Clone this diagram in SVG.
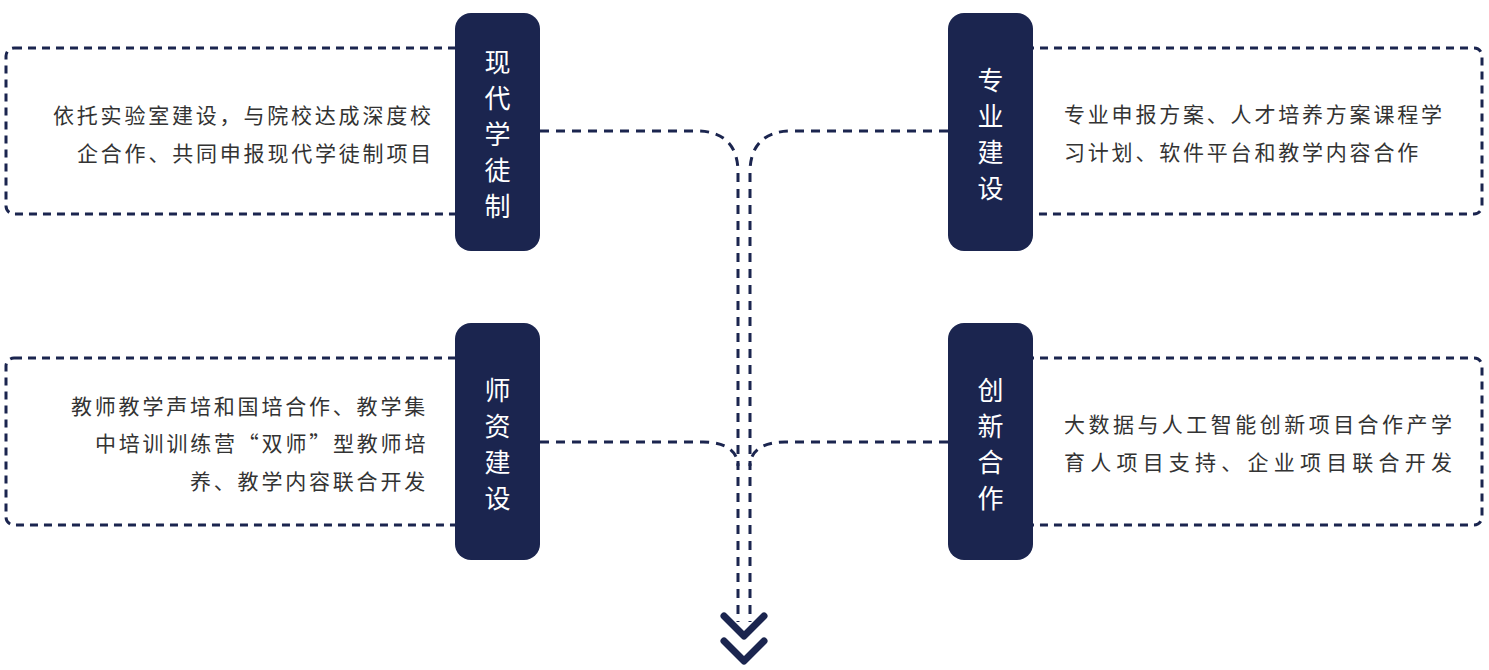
<svg xmlns="http://www.w3.org/2000/svg" width="1489" height="670" viewBox="0 0 1489 670">
<style>
.box{fill:none;stroke:#1b254f;stroke-width:3;stroke-dasharray:8 6}
.pill{fill:#1b254f}
.pt{fill:#ffffff;font-family:"Noto Sans CJK SC","Noto Sans",sans-serif;font-size:26px;text-anchor:middle;dominant-baseline:central}
.bt{fill:#333333;font-family:"Noto Sans CJK SC","Noto Sans",sans-serif;font-size:21px;letter-spacing:2.8px;dominant-baseline:central}
.con{fill:none;stroke:#1b254f;stroke-width:3;stroke-dasharray:9 7}
.chev{fill:none;stroke:#1b254f;stroke-width:7;stroke-linecap:round;stroke-linejoin:round}
</style>
<rect width="1489" height="670" fill="#ffffff"/>
<g id="connectors">
<path class="con" d="M540 131 H697 C726 131 738 148 738 172 V622"/>
<path class="con" d="M948 131 H791 C762 131 750 148 750 172 V622"/>
<path class="con" d="M540 442 H703 C727 442 738 452 738 466"/>
<path class="con" d="M948 442 H785 C761 442 750 452 750 466"/>
<path class="chev" d="M724 616 L744 636 L764 616"/>
<path class="chev" d="M724 641 L744 661 L764 641"/>
</g>
<g id="node-xiandai">
<rect class="box" x="6" y="48" width="500" height="166" rx="8"/>
<rect class="pill" x="455" y="13" width="85" height="238" rx="16"/>
<text class="pt" x="497.5" y="60">现</text>
<text class="pt" x="497.5" y="96">代</text>
<text class="pt" x="497.5" y="132">学</text>
<text class="pt" x="497.5" y="168">徒</text>
<text class="pt" x="497.5" y="204">制</text>
<text class="bt" x="53" y="114">依托实验室建设，与院校达成深度校</text>
<text class="bt" x="77" y="152">企合作、共同申报现代学徒制项目</text>
</g>
<g id="node-zhuanye">
<rect class="box" x="990" y="48" width="492" height="166" rx="8"/>
<rect class="pill" x="948" y="13" width="85" height="238" rx="16"/>
<text class="pt" x="990.5" y="78">专</text>
<text class="pt" x="990.5" y="114">业</text>
<text class="pt" x="990.5" y="150">建</text>
<text class="pt" x="990.5" y="186">设</text>
<text class="bt" x="1064" y="113">专业申报方案、人才培养方案课程学</text>
<text class="bt" x="1064" y="151">习计划、软件平台和教学内容合作</text>
</g>
<g id="node-shizi">
<rect class="box" x="6" y="358" width="500" height="167" rx="8"/>
<rect class="pill" x="455" y="323" width="85" height="237" rx="16"/>
<text class="pt" x="497.5" y="388">师</text>
<text class="pt" x="497.5" y="424">资</text>
<text class="pt" x="497.5" y="460">建</text>
<text class="pt" x="497.5" y="496">设</text>
<text class="bt" x="71" y="405">教师教学声培和国培合作、教学集</text>
<text class="bt" x="95" y="442">中培训训练营“双师”型教师培</text>
<text class="bt" x="190" y="480">养、教学内容联合开发</text>
</g>
<g id="node-chuangxin">
<rect class="box" x="990" y="358" width="492" height="167" rx="8"/>
<rect class="pill" x="948" y="323" width="85" height="237" rx="16"/>
<text class="pt" x="990.5" y="388">创</text>
<text class="pt" x="990.5" y="424">新</text>
<text class="pt" x="990.5" y="460">合</text>
<text class="pt" x="990.5" y="496">作</text>
<text class="bt" x="1064" y="423" style="letter-spacing:0" textLength="388" lengthAdjust="spacing">大数据与人工智能创新项目合作产学</text>
<text class="bt" x="1064" y="461" style="letter-spacing:0" textLength="388" lengthAdjust="spacing">育人项目支持、企业项目联合开发</text>
</g>
</svg>
